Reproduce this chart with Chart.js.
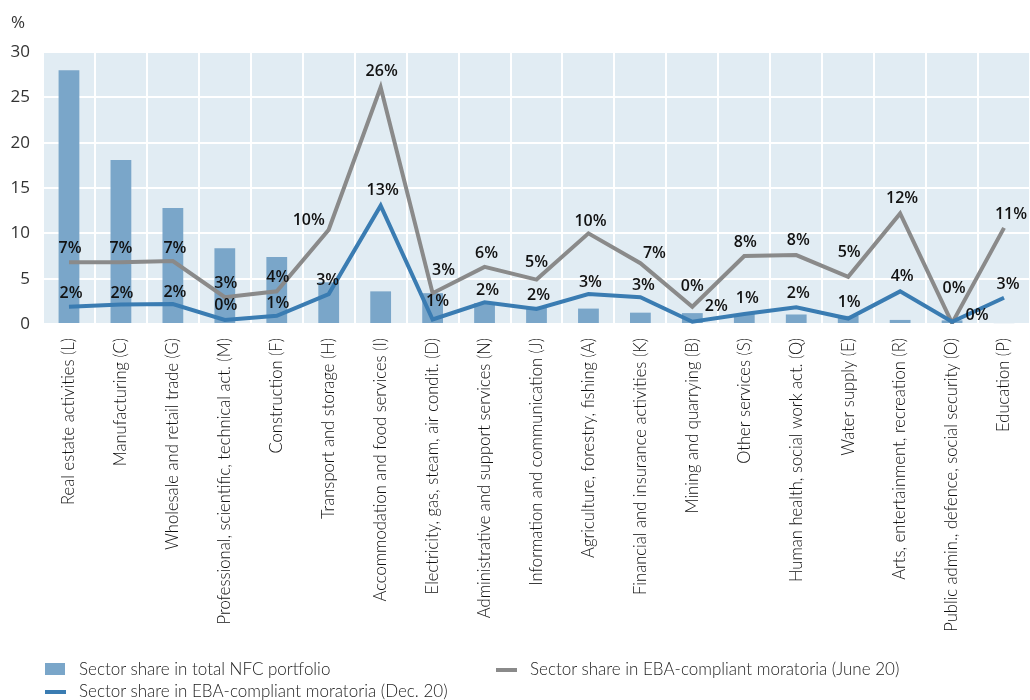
<!DOCTYPE html>
<html>
<head>
<meta charset="utf-8">
<script src="https://cdn.jsdelivr.net/npm/chart.js@4.4.1/dist/chart.umd.min.js"></script>
<style>
  body { margin: 0; background: #fff; }
  #wrap { position: relative; width: 1030px; height: 700px; }
  #box { position: absolute; left: 0; top: 0; width: 1030px; height: 700px; }
  .lg { position: absolute; font-family: Lato, sans-serif; font-weight: 300; font-size: 17px; color: #222; white-space: nowrap; line-height: 20px; }
  .sw { position: absolute; }
</style>
</head>
<body>
<div id="wrap">
  <div id="box"><canvas id="chart"></canvas></div>
  <div id="legend"></div>
</div>
<script>
const categories = [
    'Real estate activities (L)', 'Manufacturing (C)', 'Wholesale and retail trade (G)',
    'Professional, scientific, technical act. (M)', 'Construction (F)', 'Transport and storage (H)',
    'Accommodation and food services (I)', 'Electricity, gas, steam, air condit. (D)',
    'Administrative and support services (N)', 'Information and communication (J)',
    'Agriculture, forestry, fishing (A)', 'Financial and insurance activities (K)',
    'Mining and quarrying (B)', 'Other services (S)', 'Human health, social work act. (Q)',
    'Water supply (E)', 'Arts, entertainment, recreation (R)',
    'Public admin., defence, social security (O)', 'Education (P)'
];

// sector share in total NFC portfolio (bars)
const portfolioShare = [28.0, 18.1, 12.8, 8.35, 7.4, 4.6, 3.6, 3.4, 2.3, 1.9, 1.7, 1.25, 1.2, 1.1, 1.05, 0.9, 0.45, 0.4, 0.1];
// moratoria June 20 (grey line)
const juneShare = [6.8, 6.8, 6.95, 2.95, 3.6, 10.4, 26.1, 3.4, 6.3, 4.9, 10.0, 6.7, 1.9, 7.5, 7.6, 5.2, 12.2, 0.1, 10.6];
// moratoria Dec. 20 (blue line)
const decShare = [1.9, 2.15, 2.2, 0.45, 0.9, 3.3, 13.05, 0.5, 2.4, 1.65, 3.3, 2.95, 0.25, 1.1, 1.85, 0.6, 3.6, 0.25, 2.9];

// point labels as printed on the chart
const juneLabels = ['7%', '7%', '7%', '3%', '4%', '10%', '26%', '3%', '6%', '5%', '10%', '7%', '0%', '8%', '8%', '5%', '12%', '0%', '11%'];
const decLabels = ['2%', '2%', '2%', '0%', '1%', '3%', '13%', '1%', '2%', '2%', '3%', '3%', '2%', '1%', '2%', '1%', '4%', '0%', '3%'];

const yTicks = [0, 5, 10, 15, 20, 25, 30];

// label placement relative to the point [dx, dy]
const juneShift = [[1,-14],[0,-14],[2,-13],[1,-14],[1,-14],[-20,-9],[1,-16],[11,-23],[2,-13],[0,-17],[2,-12],[14,-10],[0,-20],[1,-14],[2,-15],[1,-24],[2,-15],[2,-35],[7,-13]];
const decShift = [[2,-13],[1,-11],[2,-12],[1,-14],[1,-12],[-1,-14],[2,-15],[5,-18],[3,-12],[2,-14],[2,-12],[3,-12],[24,-15],[3,-16],[2,-14],[1,-16],[2,-15],[25,-6],[4,-13]];

const BAR = 'rgb(122,166,201)';
const GREY = 'rgb(138,138,138)';
const BLUE = 'rgb(58,124,178)';
const PLOT_BG = 'rgb(225,236,243)';

const plotBg = {
    id: 'plotBg',
    beforeDraw(c) {
        const a = c.chartArea, ctx = c.ctx;
        ctx.save();
        ctx.fillStyle = PLOT_BG;
        ctx.fillRect(a.left, a.top, a.right - a.left, a.bottom - a.top);
        ctx.restore();
    }
};

const pointLabels = {
    id: 'pointLabels',
    afterDatasetsDraw(c) {
        const ctx = c.ctx;
        ctx.save();
        ctx.font = '600 16px "Open Sans", sans-serif';
        ctx.fillStyle = '#111';
        ctx.textAlign = 'center';
        ctx.textBaseline = 'middle';
        [[1, juneLabels, juneShift], [2, decLabels, decShift]].forEach(([idx, texts, shift]) => {
            c.getDatasetMeta(idx).data.forEach((pt, i) => {
                ctx.fillText(texts[i], pt.x + shift[i][0], pt.y + shift[i][1]);
            });
        });
        // unit label above the y axis
        ctx.font = '17px "Open Sans", sans-serif';
        ctx.fillStyle = '#333';
        ctx.textAlign = 'left';
        ctx.fillText('%', 11, 23);
        ctx.restore();
    }
};

const chart = new Chart(document.getElementById('chart'), {
    type: 'bar',
    data: {
        labels: categories,
        datasets: [
            {
                label: 'Sector share in total NFC portfolio',
                data: portfolioShare,
                backgroundColor: BAR,
                barPercentage: 0.4,
                categoryPercentage: 1,
                order: 3
            },
            {
                type: 'line',
                label: 'Sector share in EBA-compliant moratoria (June 20)',
                data: juneShare,
                borderColor: GREY,
                backgroundColor: GREY,
                borderWidth: 4,
                pointRadius: 0,
                tension: 0,
                order: 2
            },
            {
                type: 'line',
                label: 'Sector share in EBA-compliant moratoria (Dec. 20)',
                data: decShare,
                borderColor: BLUE,
                backgroundColor: BLUE,
                borderWidth: 4,
                pointRadius: 0,
                tension: 0,
                order: 1
            }
        ]
    },
    options: {
        responsive: true,
        maintainAspectRatio: false,
        animation: false,
        layout: { padding: { top: 52, left: 0, right: 0, bottom: 0 } },
        plugins: {
            legend: { display: false },
            tooltip: { enabled: false }
        },
        scales: {
            x: {
                grid: { color: '#fff', lineWidth: 2, drawTicks: false },
                border: { display: false },
                ticks: {
                    autoSkip: false,
                    maxRotation: 90,
                    minRotation: 90,
                    padding: 14,
                    color: '#111',
                    font: { family: 'Lato', weight: '300', size: 16.6 }
                },
                afterFit: s => { s.height = 376; s.paddingLeft = 0; s.paddingRight = 0; }
            },
            y: {
                min: 0,
                max: 30,
                grid: { color: '#fff', lineWidth: 2, drawTicks: false },
                border: { display: false },
                afterBuildTicks: s => { s.ticks = yTicks.map(v => ({ value: v })); },
                ticks: {
                    padding: 13,
                    color: '#333',
                    font: { family: 'Open Sans', size: 17 }
                },
                afterFit: s => { s.width = 43; }
            }
        }
    },
    plugins: [plotBg, pointLabels]
});

// legend laid out like the original (two columns, two rows)
const legendPos = [
    { x: 45, y: 659 },
    { x: 496, y: 659 },
    { x: 45, y: 681 }
];
const legendOrder = [0, 1, 2];
const legend = document.getElementById('legend');
legendOrder.forEach((di, k) => {
    const ds = chart.data.datasets[di];
    const p = legendPos[k];
    const sw = document.createElement('div');
    sw.className = 'sw';
    if (ds.type === 'line') {
        sw.style.cssText = `left:${p.x}px;top:${p.y + 9}px;width:21px;height:4px;background:${ds.borderColor}`;
    } else {
        sw.style.cssText = `left:${p.x}px;top:${p.y + 4}px;width:20px;height:12px;background:${ds.backgroundColor}`;
    }
    const tx = document.createElement('div');
    tx.className = 'lg';
    tx.style.left = (p.x + 34) + 'px';
    tx.style.top = p.y + 'px';
    tx.textContent = ds.label;
    legend.appendChild(sw);
    legend.appendChild(tx);
});
</script>
</body>
</html>
